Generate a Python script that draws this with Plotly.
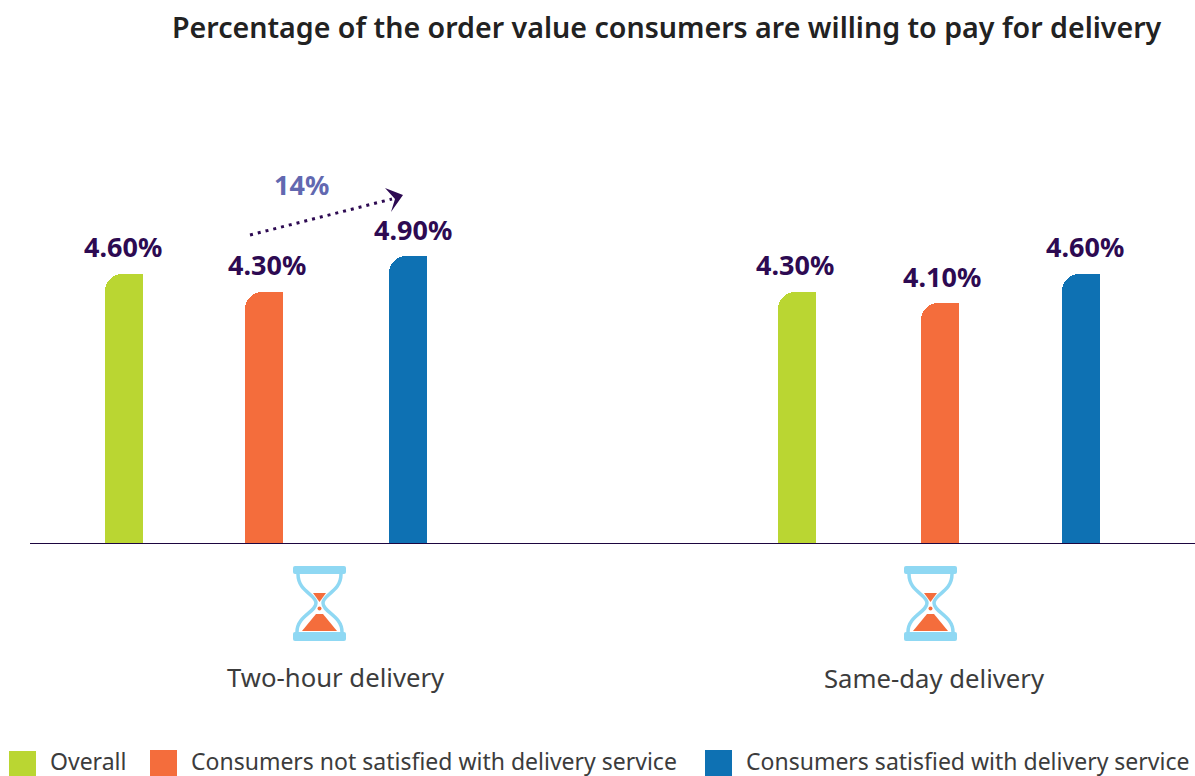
import plotly.graph_objects as go

title = "Percentage of the order value consumers are willing to pay for delivery"
groups = ["Two-hour delivery", "Same-day delivery"]
series = ["Overall", "Consumers not satisfied with delivery service", "Consumers satisfied with delivery service"]
overall = [4.6, 4.3]
not_satisfied = [4.3, 4.1]
satisfied = [4.9, 4.6]
growth_label = "14%"

colors = ["#bad632", "#f46d3c", "#0e71b3"]
DARK = "#2d0a52"
GREY = "#3c3c3c"
FONT = "Noto Sans"
W, H = 1195, 776
BASE = 543.5
PX_PER_UNIT = 58.6
BAR_W = 38

xpos = [[123.5, 796.5], [264, 940], [408, 1081]]
label_dx = [[-1, -1.5], [3, 2], [5, 4]]
values = [overall, not_satisfied, satisfied]

fig = go.Figure()
for s, name in enumerate(series):
    fig.add_bar(x=xpos[s], y=values[s], width=BAR_W, name=name, marker=dict(color=colors[s], cornerradius=17, line_width=0), showlegend=False, hoverinfo="skip")
    fig.add_bar(x=[p + BAR_W / 4 for p in xpos[s]], y=values[s], width=BAR_W / 2, name=name, marker=dict(color=colors[s], line_width=0), showlegend=False, hoverinfo="skip")


def text(x, y, t, size, color=GREY, weight=400, anchor="center"):
    fig.add_annotation(x=x, y=y, xref="x", yref="y2", text=t, showarrow=False, xanchor=anchor, yanchor="middle",
                       font=dict(family=FONT, size=size, color=color, weight=weight))


def value_to_px(v):
    return BASE - v * PX_PER_UNIT


for s in range(3):
    for g in range(2):
        text(xpos[s][g] + label_dx[s][g], value_to_px(values[s][g]) - 27, f"{values[s][g]:.2f}%", 27, DARK, 700)

text(667, 26, title, 28.6, "#222222", 600)
text(336, 677, groups[0], 25.7)
text(934, 678, groups[1], 25.7)
text(301, 184, growth_label, 27, "#6268b0", 700)

# legend
shapes = []
for x0, y0, c in [(9, 751, colors[0]), (150, 750, colors[1]), (705, 750, colors[2])]:
    shapes.append(dict(type="rect", xref="x", yref="y2", x0=x0, x1=x0 + 27, y0=y0, y1=776, fillcolor=c, line_width=0))
for x, t in zip([48, 189, 744], series):
    text(x, 760.5, t, 23, anchor="left")

# baseline
shapes.append(dict(type="line", xref="x", yref="y", x0=30, x1=1195, y0=0, y1=0, line=dict(color="#1d0640", width=1), layer="above"))

# arrow
shapes.append(dict(type="line", xref="x", yref="y2", x0=250, y0=235, x1=392, y1=199, line=dict(color=DARK, width=3, dash="3px,5px")))
shapes.append(dict(type="path", xref="x", yref="y2", path="M403,195 L385,188 L395,199 L391,212 Z", fillcolor=DARK, line_width=0))


def rounded(x0, x1, y0, y1, r=2):
    return (f"M{x0+r},{y0} L{x1-r},{y0} Q{x1},{y0} {x1},{y0+r} L{x1},{y1-r} Q{x1},{y1} {x1-r},{y1} "
            f"L{x0+r},{y1} Q{x0},{y1} {x0},{y1-r} L{x0},{y0+r} Q{x0},{y0} {x0+r},{y0} Z")


# hourglasses
def hourglass(dx):
    blue = "#8fd8f3"
    orange = "#f46d3c"
    out = []
    for y0, y1 in [(566, 574), (632, 641)]:
        out.append(dict(type="path", xref="x", yref="y2", path=rounded(293 + dx, 346 + dx, y0, y1), fillcolor=blue, line_width=0))
    outline = (f"M{298+dx},574 C{298+dx},592 {316+dx},594 {316+dx},603 C{316+dx},612 {297+dx},616 {297+dx},632 "
               f"M{341+dx},574 C{341+dx},592 {323+dx},594 {323+dx},603 C{323+dx},612 {342+dx},616 {342+dx},632")
    out.append(dict(type="path", xref="x", yref="y2", path=outline, line=dict(color=blue, width=3.5)))
    out.append(dict(type="path", xref="x", yref="y2", path=f"M{313+dx},593 L{326+dx},593 L{319.5+dx},602 Z", fillcolor=orange, line_width=0))
    out.append(dict(type="path", xref="x", yref="y2", path=f"M{302+dx},631 L{316+dx},614 L{323+dx},614 L{337+dx},631 Z", fillcolor=orange, line_width=0))
    out.append(dict(type="circle", xref="x", yref="y2", x0=317.5 + dx, x1=321.5 + dx, y0=606.5, y1=610.5, fillcolor=orange, line_width=0))
    return out


shapes += hourglass(0) + hourglass(611)

fig.update_layout(
    width=W, height=H, margin=dict(l=0, r=0, t=0, b=0), paper_bgcolor="white", plot_bgcolor="white",
    barmode="overlay", bargap=0, shapes=shapes, showlegend=False,
    xaxis=dict(range=[0, W], visible=False, fixedrange=True),
    yaxis=dict(range=[(BASE - H) / PX_PER_UNIT, BASE / PX_PER_UNIT], visible=False, fixedrange=True),
    yaxis2=dict(range=[H, 0], visible=False, overlaying="y", fixedrange=True),
)
# a hidden trace keeps the pixel-based overlay axis active
fig.add_scatter(x=[0], y=[0], yaxis="y2", mode="markers", marker=dict(opacity=0), showlegend=False, hoverinfo="skip")
fig.write_html("out.html", config={"displayModeBar": False},
               post_script="document.body.style.margin='0';document.body.style.overflow='hidden';")
